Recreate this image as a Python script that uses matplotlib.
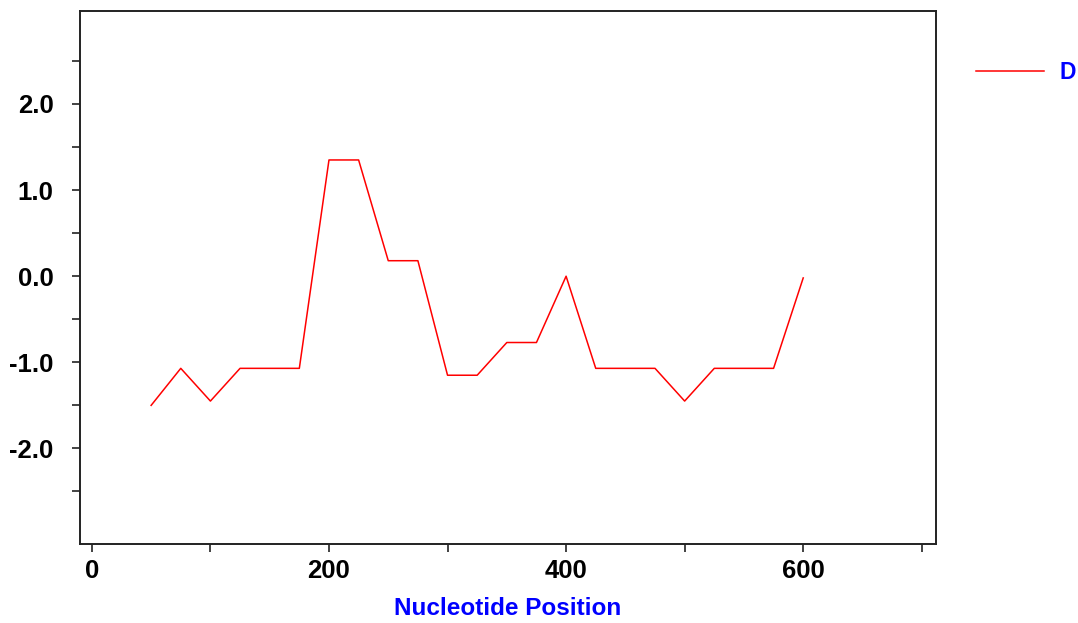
import matplotlib
matplotlib.use("Agg")
import matplotlib.pyplot as plt

# nucleotide positions and values
positions = [50, 75, 100, 125, 150, 175, 200, 225, 250, 275, 300, 325,
             350, 375, 400, 425, 450, 475, 500, 525, 550, 575, 600]
values_d = [-1.50, -1.07, -1.45, -1.07, -1.07, -1.07, 1.35, 1.35, 0.18, 0.18,
            -1.15, -1.15, -0.77, -0.77, 0.00, -1.07, -1.07, -1.07, -1.45,
            -1.07, -1.07, -1.07, -0.02]

x_ticks = [0, 100, 200, 300, 400, 500, 600, 700]
x_labels = ["0", "", "200", "", "400", "", "600", ""]
y_ticks = [-2.5, -2.0, -1.5, -1.0, -0.5, 0.0, 0.5, 1.0, 1.5, 2.0, 2.5]
y_labels = ["", "-2.0", "", "-1.0", "", "0.0", "", "1.0", "", "2.0", ""]

plt.rcParams["font.family"] = ["Liberation Sans", "DejaVu Sans"]
plt.rcParams["font.weight"] = "bold"

fig = plt.figure(figsize=(10.78, 6.23), dpi=100)
ax = fig.add_axes([80 / 1078, 1 - 544 / 623, (936 - 80) / 1078, (544 - 11) / 623])

line, = ax.plot(positions, values_d, color="#FF0000", linewidth=1.1)

ax.set_xlim(-10, 712)
ax.set_ylim(-3.11, 3.08)
ax.set_xticks(x_ticks)
ax.set_xticklabels(x_labels)
ax.set_yticks(y_ticks)
ax.set_yticklabels(y_labels)
ax.tick_params(direction="out", length=6, width=1.2, colors="#222222",
               labelsize=18.5, labelcolor="black")
ax.tick_params(axis="y", pad=13)
ax.tick_params(axis="x", pad=5)
for s in ax.spines.values():
    s.set_linewidth(1.4)
    s.set_color("#222222")

ax.set_xlabel("Nucleotide Position", color="#0000FF", fontsize=17.5,
              fontweight="bold", labelpad=10)

# legend sits outside the axes, to the right
fig.legend([line], ["D"], loc="upper left", bbox_to_anchor=(976 / 1078, 1 - 61 / 623),
           frameon=False, handlelength=2.97, handletextpad=0.68,
           borderpad=0, borderaxespad=0,
           prop={"size": 16.5, "weight": "bold"}, labelcolor="#0000FF")

plt.savefig("out.png", dpi=100)
plt.close()
